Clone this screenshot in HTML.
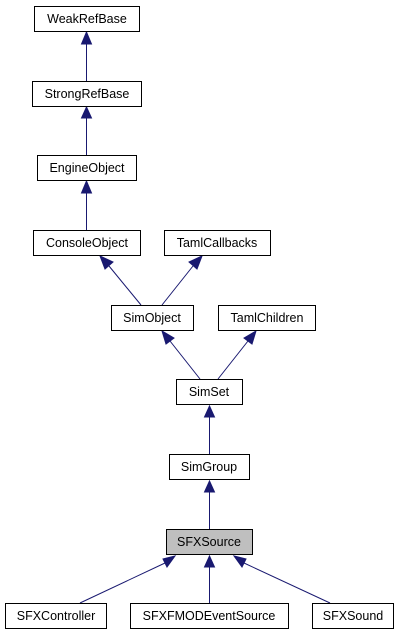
<!DOCTYPE html>
<html><head><style>body{margin:0;background:#fff}svg{display:block}text{font-family:"Liberation Sans",sans-serif;font-size:12.5px;fill:#000}</style></head><body>
<svg width="400" height="635" viewBox="0 0 400 635">
<g stroke="#191970" stroke-width="1">
<path d="M86.5,44 V81 M86.5,118 V155 M86.5,193 V230 M141,305 L109,266 M162,305 L193,266 M200,379 L170,341 M218,379 L248,341 M209.5,417 V454 M209.5,492 V529 M80,603 L165,563 M209.5,567 V603 M330,603 L244,563"/>
</g>
<g fill="#191970" stroke="#191970">
<path d="M86.5,32 L81.5,44 L91.5,44 Z"/>
<path d="M86.5,107 L81.5,118 L91.5,118 Z"/>
<path d="M86.5,181 L81.5,193 L91.5,193 Z"/>
<path d="M100,256 L105,269 L113,262 Z"/>
<path d="M202,256 L189,262 L197,269 Z"/>
<path d="M162,331 L166,344 L174,338 Z"/>
<path d="M256,331 L244,338 L252,344 Z"/>
<path d="M209.5,406 L204.5,417 L214.5,417 Z"/>
<path d="M209.5,481 L204.5,492 L214.5,492 Z"/>
<path d="M175,556 L163,559 L167,567 Z"/>
<path d="M209.5,556 L204.5,567 L214.5,567 Z"/>
<path d="M234,556 L242,567 L246,559 Z"/>
</g>
<g stroke="#000" stroke-width="1" fill="#fff">
<rect x="34.5" y="6.5" width="105" height="25"/>
<rect x="32.5" y="81.5" width="109" height="25"/>
<rect x="37.5" y="155.5" width="99" height="25"/>
<rect x="33.5" y="230.5" width="107" height="25"/>
<rect x="164.5" y="230.5" width="106" height="25"/>
<rect x="111.5" y="305.5" width="82" height="25"/>
<rect x="218.5" y="305.5" width="97" height="25"/>
<rect x="176.5" y="379.5" width="66" height="25"/>
<rect x="169.5" y="454.5" width="80" height="25"/>
<rect x="166.5" y="529.5" width="86" height="25" fill="#bfbfbf"/>
<rect x="5.5" y="603.5" width="101" height="25"/>
<rect x="130.5" y="603.5" width="158" height="25"/>
<rect x="312.5" y="603.5" width="81" height="25"/>
</g>
<g text-anchor="middle">
<text x="87" y="23">WeakRefBase</text>
<text x="87" y="98">StrongRefBase</text>
<text x="87" y="172">EngineObject</text>
<text x="87" y="247">ConsoleObject</text>
<text x="217" y="247">TamlCallbacks</text>
<text x="152" y="322">SimObject</text>
<text x="267" y="322">TamlChildren</text>
<text x="209" y="396">SimSet</text>
<text x="209" y="471">SimGroup</text>
<text x="209" y="546">SFXSource</text>
<text x="56" y="620">SFXController</text>
<text x="209" y="620">SFXFMODEventSource</text>
<text x="353" y="620">SFXSound</text>
</g>
</svg>
</body></html>
